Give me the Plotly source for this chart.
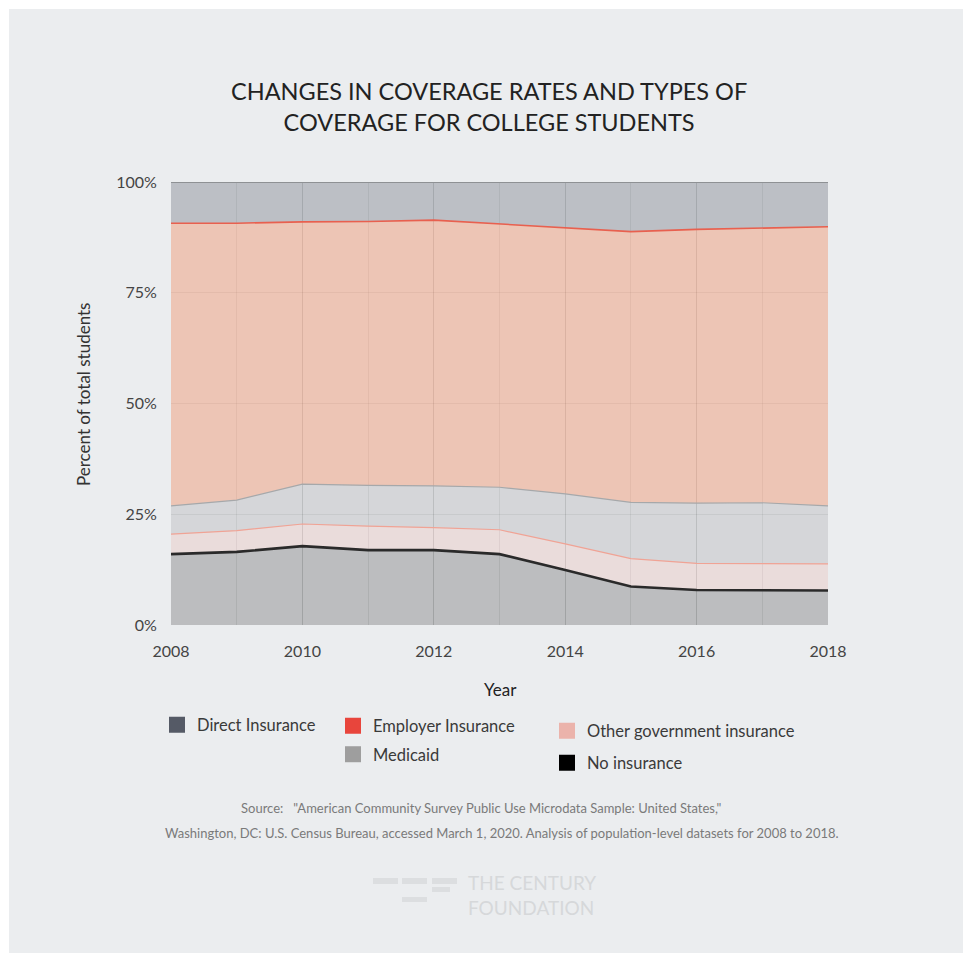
import plotly.graph_objects as go

# ---------------- data ----------------
years = [2008, 2009, 2010, 2011, 2012, 2013, 2014, 2015, 2016, 2017, 2018]
no_insurance = [16.0, 16.5, 17.8, 16.9, 16.9, 16.0, 12.4, 8.7, 7.9, 7.9, 7.8]
other_gov = [4.5, 4.8, 5.0, 5.4, 5.1, 5.5, 5.9, 6.3, 6.0, 6.0, 6.0]
medicaid = [6.4, 6.9, 9.0, 9.2, 9.4, 9.6, 11.3, 12.7, 13.6, 13.7, 13.1]
employer = [63.8, 62.5, 59.2, 59.6, 60.0, 59.4, 60.1, 61.1, 61.8, 62.0, 63.0]
direct = [9.3, 9.3, 9.0, 8.9, 8.6, 9.5, 10.3, 11.2, 10.7, 10.4, 10.1]

x_tick_vals = [2008, 2010, 2012, 2014, 2016, 2018]
y_tick_vals = [0, 25, 50, 75, 100]
y_tick_text = ["0%", "25%", "50%", "75%", "100%"]

legend_names = ["Direct Insurance", "Employer Insurance", "Medicaid",
                "Other government insurance", "No insurance"]
legend_colors = ["#555a66", "#e8453c", "#9e9e9e", "#ebb3ab", "#000000"]

title_text = "CHANGES IN COVERAGE RATES AND TYPES OF<br>COVERAGE FOR COLLEGE STUDENTS"
source_line1 = 'Source:&nbsp;&nbsp; "American Community Survey Public Use Microdata Sample: United States,"'
source_line2 = ("Washington, DC: U.S. Census Bureau, accessed March 1, 2020. "
                "Analysis of population-level datasets for 2008 to 2018.")
logo_text = "THE CENTURY<br>FOUNDATION"

# ---------------- geometry helpers ----------------
W, H = 963, 953
L, R, T, B = 171, 828, 182, 625
PW, PH = R - L, B - T


def px(xp):
    return (xp - L) / PW


def py(yp):
    return (B - yp) / PH


BG = "#ebedef"
FONT = "Lato"

fig = go.Figure()

# stacked areas, bottom to top
series = [
    ("No insurance", no_insurance, "rgba(0,0,0,0.20)", "#2a2a2a", 2.6),
    ("Other government insurance", other_gov, "rgba(232,176,168,0.28)", "#f0a395", 1.2),
    ("Medicaid", medicaid, "rgba(150,152,154,0.26)", "#a6a8aa", 1.2),
    ("Employer Insurance", employer, "rgba(240,140,100,0.41)", "#e8604f", 1.6),
    ("Direct Insurance", direct, "rgba(85,90,102,0.31)", "#8e9194", 2.2),
]
for name, vals, fillc, linec, lw in series:
    fig.add_trace(go.Scatter(
        x=years, y=vals, name=name, stackgroup="one", mode="lines",
        line=dict(color=linec, width=lw), fillcolor=fillc,
        showlegend=False, hoverinfo="skip", cliponaxis=False,
    ))

# legend entries (five separate legends for free placement)
legend_keys = ["legend", "legend2", "legend3", "legend4", "legend5"]
legend_pos = [(177, 725), (353, 726), (353, 754.5), (567, 731), (567, 763)]
for nm, col, key in zip(legend_names, legend_colors, legend_keys):
    fig.add_trace(go.Scatter(
        x=[None], y=[None], mode="markers", name=nm,
        marker=dict(symbol="square", size=16, color=col),
        legend=key, showlegend=True,
    ))

legend_layouts = {}
for key, (cx, cy) in zip(legend_keys, legend_pos):
    legend_layouts[key] = dict(
        x=px(cx - 20), y=py(cy), xanchor="left", yanchor="middle",
        xref="paper", yref="paper",
        bgcolor="rgba(0,0,0,0)", borderwidth=0, itemwidth=30,
        font=dict(family=FONT, size=16.5, color="#3a3a3a"),
        itemclick=False, itemdoubleclick=False,
    )

annotations = [
    dict(text=title_text, x=px(489), y=py(106), xref="paper", yref="paper",
         showarrow=False, xanchor="center", yanchor="middle",
         font=dict(family=FONT, size=23.5, color="#222222")),
    dict(text="Percent of total students", x=px(83), y=py(395), xref="paper", yref="paper",
         showarrow=False, textangle=-90, xanchor="center", yanchor="middle",
         font=dict(family=FONT, size=17, color="#333333")),
    dict(text="Year", x=px(500), y=py(689), xref="paper", yref="paper",
         showarrow=False, xanchor="center", yanchor="middle",
         font=dict(family=FONT, size=17, color="#222222")),
    dict(text=source_line1, x=px(481), y=py(808), xref="paper", yref="paper",
         showarrow=False, xanchor="center", yanchor="middle",
         font=dict(family=FONT, size=13, color="#7a7a7a")),
    dict(text=source_line2, x=px(502), y=py(833), xref="paper", yref="paper",
         showarrow=False, xanchor="center", yanchor="middle",
         font=dict(family=FONT, size=13, color="#7a7a7a")),
    dict(text=logo_text, x=px(466), y=py(895), xref="paper", yref="paper",
         showarrow=False, xanchor="left", yanchor="middle", align="left",
         font=dict(family=FONT, size=19, color="#d6d8da")),
]

shapes = [
    # white outer margin (left & top)
    dict(type="rect", xref="paper", yref="paper", x0=px(0), x1=px(9), y0=py(H), y1=py(0),
         fillcolor="white", line=dict(width=0), layer="below"),
    dict(type="rect", xref="paper", yref="paper", x0=px(0), x1=px(W), y0=py(9), y1=py(0),
         fillcolor="white", line=dict(width=0), layer="below"),
]
logo_bars = [(373, 398, 878, 884), (402, 427, 878, 884), (432, 457, 878, 884),
             (432, 450, 887, 892), (402, 427, 897, 902)]
for x0, x1, y0, y1 in logo_bars:
    shapes.append(dict(type="rect", xref="paper", yref="paper",
                       x0=px(x0), x1=px(x1), y0=py(y1), y1=py(y0),
                       fillcolor="#dcdee0", line=dict(width=0)))

grid = "rgba(0,0,0,0.07)"
fig.update_layout(
    width=W, height=H,
    margin=dict(l=L, r=W - R, t=T, b=H - B),
    paper_bgcolor=BG, plot_bgcolor=BG,
    font=dict(family=FONT, color="#444444"),
    xaxis=dict(range=[2008, 2018], tickvals=x_tick_vals, showgrid=True, gridcolor=grid,
               gridwidth=1, zeroline=False, showline=False,
               ticks="outside", ticklen=12, tickcolor="rgba(0,0,0,0)",
               tickfont=dict(family=FONT, size=16, color="#444444"),
               minor=dict(dtick=1, tick0=2008, showgrid=True, gridcolor=grid, gridwidth=1)),
    yaxis=dict(range=[0, 100], tickvals=y_tick_vals, ticktext=y_tick_text, showgrid=True,
               gridcolor=grid, gridwidth=1, zeroline=False, showline=False,
               ticks="outside", ticklen=10, tickcolor="rgba(0,0,0,0)",
               tickfont=dict(family=FONT, size=16, color="#444444")),
    annotations=annotations,
    shapes=shapes,
    **legend_layouts,
)

fig.write_html("out.html")
